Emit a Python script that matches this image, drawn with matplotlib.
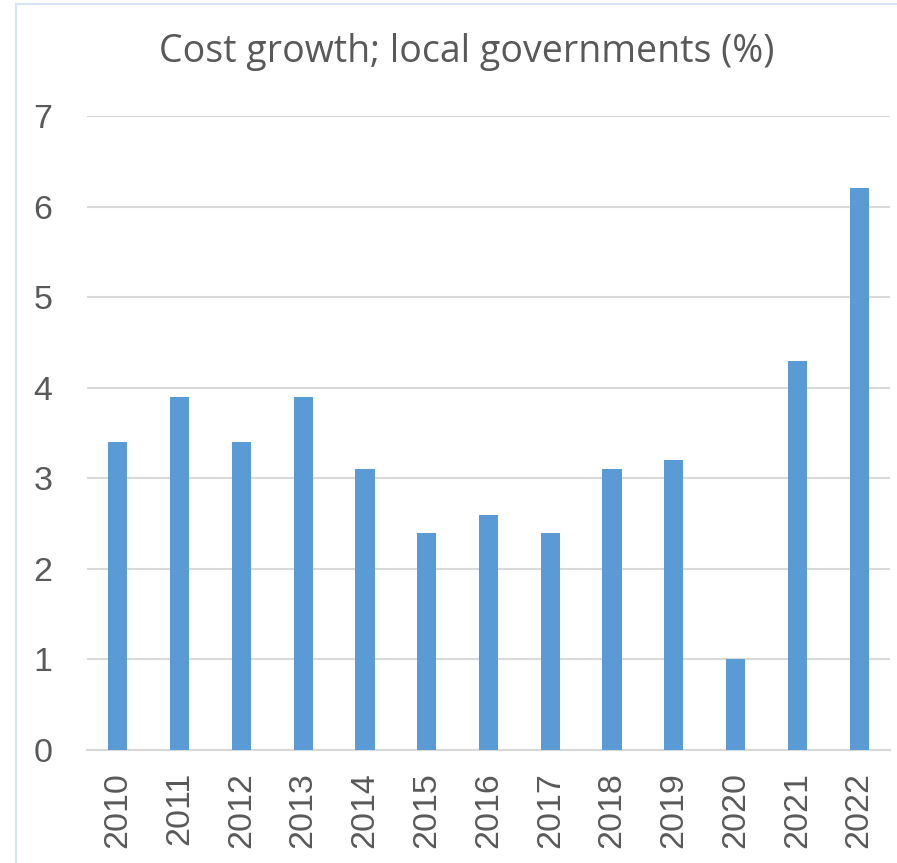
import matplotlib.pyplot as plt
from matplotlib.patches import Rectangle

years = ["2010", "2011", "2012", "2013", "2014", "2015", "2016",
         "2017", "2018", "2019", "2020", "2021", "2022"]
growth = [3.4, 3.9, 3.4, 3.9, 3.1, 2.4, 2.6, 2.4, 3.1, 3.2, 1.0, 4.3, 6.2]
yticks = [0, 1, 2, 3, 4, 5, 6, 7]

W, H = 897, 863
fig = plt.figure(figsize=(W / 100, H / 100), dpi=100)

# chart-area border (light blue, only left and top visible)
fig.patches.append(Rectangle((16 / W, -0.1), 1.2, 1 - 4 / H + 0.1,
                             transform=fig.transFigure, fill=False,
                             edgecolor="#D5E5F5", linewidth=1.5))

ax = fig.add_axes([87 / W, 1 - 750 / H, (890 - 87) / W, (750 - 116) / H])
x = range(len(years))
ax.bar(x, growth, width=0.31, color="#5B9BD5", zorder=3)

ax.set_xlim(-0.5, len(years) - 0.5)
ax.set_ylim(0, 7)
ax.set_yticks(yticks)
ax.set_yticklabels([str(v) for v in yticks], fontsize=24.5,
                   color="#595959", family="Liberation Sans")
ax.set_xticks(list(x))
ax.set_xticklabels(years, rotation=90, fontsize=24.5,
                   color="#595959", family="Liberation Sans")
ax.tick_params(axis="both", length=0)
ax.tick_params(axis="y", pad=25)
ax.tick_params(axis="x", pad=16)
ax.yaxis.grid(True, color="#D9D9D9", linewidth=1.5, zorder=0)
for s in ["left", "right", "top"]:
    ax.spines[s].set_visible(False)
ax.spines["bottom"].set_color("#D9D9D9")
ax.spines["bottom"].set_linewidth(1.5)

fig.text(467 / W, 1 - 52 / H, "Cost growth; local governments (%)",
         ha="center", va="center", fontsize=27, color="#595959",
         family="Open Sans")

fig.savefig("out.png", dpi=100)
